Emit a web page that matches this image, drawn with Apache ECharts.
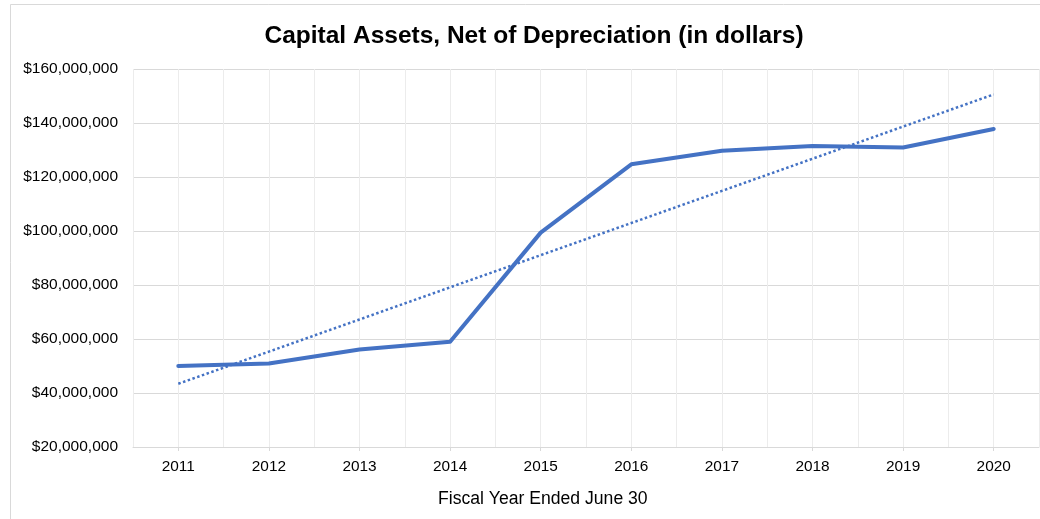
<!DOCTYPE html>
<html>
<head>
<meta charset="utf-8">
<script src="https://cdn.jsdelivr.net/npm/echarts@6/dist/echarts.min.js"></script>
<style>
html,body{margin:0;padding:0;background:#fff;}
#chart{width:1040px;height:519px;}
</style>
</head>
<body>
<div id="chart"></div>
<script>
const years = ['2011','2012','2013','2014','2015','2016','2017','2018','2019','2020'];
const capitalAssets = [50000000, 50900000, 56100000, 59000000, 99400000, 124700000, 129700000, 131500000, 130900000, 137800000];
const yTicks = { min: 20000000, max: 160000000, step: 20000000 };

// Linear trendline (least squares) computed from the series values
function trendline(vals) {
  const n = vals.length;
  let sx = 0, sy = 0, sxx = 0, sxy = 0;
  vals.forEach((v, i) => { const x = i + 1; sx += x; sy += v; sxx += x * x; sxy += x * v; });
  const b = (n * sxy - sx * sy) / (n * sxx - sx * sx);
  const a = (sy - b * sx) / n;
  return vals.map((v, i) => a + b * (i + 1));
}
const trend = trendline(capitalAssets);

const chart = echarts.init(document.getElementById('chart'));
const font = 'Liberation Sans, Arial, sans-serif';
chart.setOption({
  animation: false,
  backgroundColor: '#fff',
  title: {
    text: 'Capital Assets, Net of Depreciation (in dollars)',
    left: 529, top: 19, textAlign: 'center',
    textStyle: { fontFamily: font, fontSize: 24.5, fontWeight: 'bold', color: '#000' }
  },
  graphic: [
    { type: 'rect', shape: { x: 10.5, y: 4.5, width: 1100, height: 600 },
      style: { fill: 'none', stroke: '#d9d9d9', lineWidth: 1 }, silent: true },
    { type: 'text', left: 438, top: 490,
      style: { text: 'Fiscal Year Ended June 30', fontFamily: font, fontSize: 17.6, fill: '#000' } }
  ],
  grid: { left: 133, right: 1, top: 69, bottom: 72 },
  xAxis: [
    {
      type: 'category', data: years, boundaryGap: true,
      axisLine: { show: true, lineStyle: { color: '#d9d9d9', width: 1 } },
      axisTick: { show: true, alignWithLabel: true, length: 4, lineStyle: { color: '#d9d9d9' } },
      axisLabel: { fontFamily: font, fontSize: 15.4, color: '#000', margin: 12 },
      splitLine: { show: false }
    },
    {
      type: 'value', min: 0, max: 20, interval: 1, position: 'bottom',
      axisLine: { show: false }, axisTick: { show: false }, axisLabel: { show: false },
      splitLine: { show: true, lineStyle: { color: '#ececec', width: 1 } }
    }
  ],
  yAxis: {
    type: 'value', min: yTicks.min, max: yTicks.max, interval: yTicks.step,
    axisLine: { show: false }, axisTick: { show: false },
    axisLabel: {
      fontFamily: font, fontSize: 15.5, color: '#000', margin: 15,
      formatter: v => '$' + v.toLocaleString('en-US')
    },
    splitLine: { show: true, lineStyle: { color: '#d9d9d9', width: 1 } }
  },
  series: [
    {
      type: 'line', xAxisIndex: 0, data: capitalAssets, showSymbol: false, symbol: 'none',
      lineStyle: { color: '#4472C4', width: 4, cap: 'round', join: 'round' }, z: 3
    },
    {
      type: 'line', xAxisIndex: 0, data: trend, showSymbol: false, symbol: 'none',
      lineStyle: { color: '#4472C4', width: 2.5, type: [2.5, 2.5], cap: 'butt' }, z: 2
    }
  ]
});
</script>
</body>
</html>
